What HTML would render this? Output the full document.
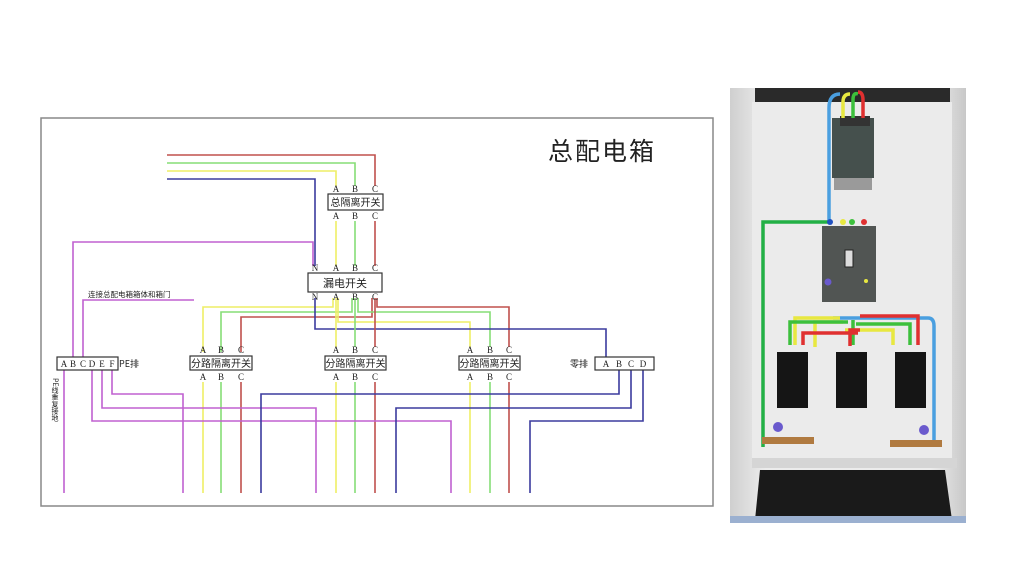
<!DOCTYPE html>
<html><head><meta charset="utf-8"><style>
html,body{margin:0;padding:0;background:#fff;}
body{width:1024px;height:576px;overflow:hidden;position:relative;}
svg{position:absolute;left:0;top:0;}
</style></head><body>
<svg width="1024" height="576" viewBox="0 0 1024 576" xmlns="http://www.w3.org/2000/svg" font-family="Liberation Serif, Noto Serif CJK SC, serif">
<defs>
<linearGradient id="bg" x1="0" x2="1"><stop offset="0" stop-color="#cfcfcf"/><stop offset="0.15" stop-color="#ececec"/><stop offset="0.85" stop-color="#ececec"/><stop offset="1" stop-color="#c8c8c8"/></linearGradient>
</defs>
<rect x="41" y="118" width="672" height="388" fill="#fff" stroke="#888" stroke-width="1.5"/>
<text x="548" y="160" font-size="25" font-family="Noto Sans CJK SC, sans-serif" fill="#222" letter-spacing="2">总配电箱</text>
<g fill="none" stroke-width="1.6">
<!-- top incoming -->
<polyline points="167,155 375,155 375,186" stroke="#c0504d"/>
<polyline points="167,163 355,163 355,186" stroke="#86dd76"/>
<polyline points="167,171 336,171 336,186" stroke="#eeee66"/>
<polyline points="167,179 315,179 315,266" stroke="#3b3b9e"/>
<line x1="336" y1="221" x2="336" y2="266" stroke="#eeee66"/>
<line x1="355" y1="221" x2="355" y2="266" stroke="#86dd76"/>
<line x1="375" y1="221" x2="375" y2="266" stroke="#c0504d"/>
<polyline points="73,357 73,242 313,242 313,266" stroke="#c060d0"/>
<!-- below leakage -->
<polyline points="203,352 203,307 333,307 333,298" stroke="#eeee66"/>
<polyline points="221,352 221,312 352,312 352,298" stroke="#86dd76"/>
<polyline points="241,352 241,317 372,317 372,298" stroke="#c0504d"/>
<polyline points="377,298 377,307 509,307 509,347" stroke="#c0504d"/>
<polyline points="358,298 358,312 490,312 490,347" stroke="#86dd76"/>
<polyline points="338,298 338,322 470,322 470,347" stroke="#eeee66"/>
<polyline points="315,298 315,329 606,329 606,357" stroke="#3b3b9e"/>
<line x1="336" y1="298" x2="336" y2="347" stroke="#eeee66"/>
<line x1="355" y1="298" x2="355" y2="347" stroke="#86dd76"/>
<line x1="375" y1="298" x2="375" y2="347" stroke="#c0504d"/>
<!-- branch outgoing -->
<line x1="203" y1="382" x2="203" y2="493" stroke="#eeee66"/>
<line x1="221" y1="382" x2="221" y2="493" stroke="#86dd76"/>
<line x1="241" y1="382" x2="241" y2="493" stroke="#c0504d"/>
<line x1="336" y1="382" x2="336" y2="493" stroke="#eeee66"/>
<line x1="355" y1="382" x2="355" y2="493" stroke="#86dd76"/>
<line x1="375" y1="382" x2="375" y2="493" stroke="#c0504d"/>
<line x1="470" y1="382" x2="470" y2="493" stroke="#eeee66"/>
<line x1="490" y1="382" x2="490" y2="493" stroke="#86dd76"/>
<line x1="509" y1="382" x2="509" y2="493" stroke="#c0504d"/>
<!-- PE -->
<polyline points="83,357 83,300 194,300" stroke="#c060d0"/>
<line x1="64" y1="370" x2="64" y2="493" stroke="#c060d0"/>
<polyline points="112,370 112,394 183,394 183,493" stroke="#c060d0"/>
<polyline points="102,370 102,408 316,408 316,493" stroke="#c060d0"/>
<polyline points="92,370 92,421 451,421 451,493" stroke="#c060d0"/>
<!-- zero -->
<polyline points="619,370 619,394 261,394 261,493" stroke="#3b3b9e"/>
<polyline points="631,370 631,408 396,408 396,493" stroke="#3b3b9e"/>
<polyline points="643,370 643,421 530,421 530,493" stroke="#3b3b9e"/>
</g>
<g fill="#fff" stroke="#333" stroke-width="1.2">
<rect x="328" y="194" width="55" height="16"/>
<rect x="308" y="273" width="74" height="19"/>
<rect x="190" y="356" width="62" height="14"/>
<rect x="325" y="356" width="61" height="14"/>
<rect x="459" y="356" width="61" height="14"/>
<rect x="57" y="357" width="61" height="13"/>
<rect x="595" y="357" width="59" height="13"/>
</g>
<g font-size="9" fill="#222" text-anchor="middle">
<text x="336" y="192">A</text><text x="355" y="192">B</text><text x="375" y="192">C</text>
<text x="336" y="219">A</text><text x="355" y="219">B</text><text x="375" y="219">C</text>
<text x="315" y="271">N</text><text x="336" y="271">A</text><text x="355" y="271">B</text><text x="375" y="271">C</text>
<text x="315" y="300">N</text><text x="336" y="300">A</text><text x="355" y="300">B</text><text x="375" y="300">C</text>
<text x="203" y="353">A</text><text x="221" y="353">B</text><text x="241" y="353">C</text>
<text x="203" y="380">A</text><text x="221" y="380">B</text><text x="241" y="380">C</text>
<text x="336" y="353">A</text><text x="355" y="353">B</text><text x="375" y="353">C</text>
<text x="336" y="380">A</text><text x="355" y="380">B</text><text x="375" y="380">C</text>
<text x="470" y="353">A</text><text x="490" y="353">B</text><text x="509" y="353">C</text>
<text x="470" y="380">A</text><text x="490" y="380">B</text><text x="509" y="380">C</text>
<text x="64" y="367">A</text><text x="73" y="367">B</text><text x="83" y="367">C</text><text x="92" y="367">D</text><text x="102" y="367">E</text><text x="112" y="367">F</text>
<text x="606" y="367">A</text><text x="619" y="367">B</text><text x="631" y="367">C</text><text x="643" y="367">D</text>
</g>
<g font-family="Noto Sans CJK SC, sans-serif" fill="#222">
<text x="355.5" y="206" font-size="10" text-anchor="middle">总隔离开关</text>
<text x="345" y="287" font-size="11" text-anchor="middle">漏电开关</text>
<text x="221" y="367" font-size="10" text-anchor="middle">分路隔离开关</text>
<text x="355.5" y="367" font-size="10" text-anchor="middle">分路隔离开关</text>
<text x="489.5" y="367" font-size="10" text-anchor="middle">分路隔离开关</text>
<text x="119" y="367" font-size="9">PE排</text>
<text x="570" y="367" font-size="9">零排</text>
<text x="88" y="297" font-size="7.5">连接总配电箱箱体和箱门</text>
<text x="55" y="378" font-size="7" writing-mode="tb" transform="rotate(0)">PE线重复接地</text>
</g>
<!-- photo -->
<rect x="730" y="88" width="236" height="435" fill="url(#bg)"/>
<rect x="755" y="88" width="195" height="14" fill="#2a2a2a"/>
<rect x="752" y="102" width="200" height="360" fill="#ebebeb"/>
<rect x="752" y="458" width="205" height="10" fill="#d5d5d5"/>
<polygon points="760,470 945,470 952,520 755,520" fill="#1a1a1a"/>
<rect x="730" y="516" width="236" height="7" fill="#9bb0d0"/>
<rect x="832" y="118" width="42" height="60" fill="#45504d"/>
<rect x="834" y="178" width="38" height="12" fill="#9a9a9a"/>
<rect x="840" y="116" width="30" height="10" fill="#333"/>
<g fill="none" stroke-width="3.5">
<path d="M829 222 V108 Q829 94 840 94" stroke="#4a9fe0"/>
<path d="M843 118 V102 Q843 94 850 94" stroke="#e8e840"/>
<path d="M853 118 V100 Q853 92 858 94" stroke="#3cc03c"/>
<path d="M863 118 V100 Q863 92 858 92" stroke="#e03030"/>
<path d="M829 222 H763 V447" stroke="#22b045"/>
<path d="M833 318 H928 Q934 318 934 326 V442" stroke="#4a9fe0"/>
<path d="M840 318 H795 V345 M843 322 H815 V347 M845 330 H893 V345" stroke="#e8e840"/>
<path d="M848 322 H790 V345 M853 320 H853 V345 M856 324 H910 V345" stroke="#3cc03c"/>
<path d="M860 316 H918 V345 M860 330 H850 V346 M858 333 H803 V345" stroke="#e03030"/>
</g>
<rect x="822" y="226" width="54" height="76" fill="#515553"/>
<rect x="845" y="250" width="8" height="17" fill="#ddd" stroke="#222"/>
<circle cx="828" cy="282" r="3.5" fill="#6a5acd"/>
<circle cx="866" cy="281" r="2" fill="#e8e840"/>
<circle cx="830" cy="222" r="3" fill="#2050c0"/><circle cx="843" cy="222" r="3" fill="#e8e840"/><circle cx="852" cy="222" r="3" fill="#3cc03c"/><circle cx="864" cy="222" r="3" fill="#e03030"/>
<rect x="777" y="352" width="31" height="56" fill="#151515"/>
<rect x="836" y="352" width="31" height="56" fill="#151515"/>
<rect x="895" y="352" width="31" height="56" fill="#151515"/>
<rect x="762" y="437" width="52" height="7" fill="#b07a40"/>
<rect x="890" y="440" width="52" height="7" fill="#b07a40"/>
<circle cx="778" cy="427" r="5" fill="#6a5acd"/><circle cx="924" cy="430" r="5" fill="#6a5acd"/>
</svg>
</body></html>
